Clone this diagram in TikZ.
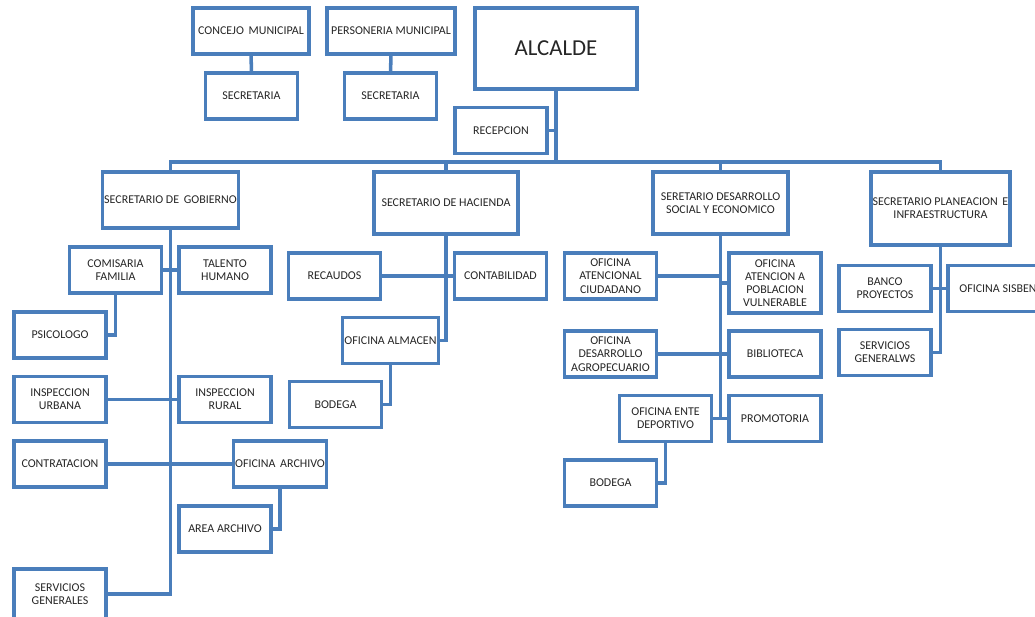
\documentclass[tikz,border=0pt]{standalone}
\usepackage{fontspec}
\setmainfont{Carlito}
\usepackage{tikz}
\usetikzlibrary{positioning}
\definecolor{OfficeBlue}{HTML}{4A7EBB}
\definecolor{TextGray}{HTML}{262626}

\begin{document}
\begin{tikzpicture}[x=0.02cm, y=-0.02cm,
  box/.style={draw=OfficeBlue, line width=2pt, fill=white, text=TextGray, align=center, inner sep=1pt, minimum width=1.84cm, minimum height=0.92cm, font=\fontsize{6.8}{7.5}\selectfont},
  head/.style={box, minimum width=2.7cm, minimum height=1.24cm},
  link/.style={draw=OfficeBlue, line width=2pt}]
  \useasboundingbox (0,0) rectangle (1035,616);
  \node[box, minimum width=2.32cm] (concejo) at (251,31) {CONCEJO\, MUNICIPAL};
  \node[box] (secc) at (251.5,96) {SECRETARIA};
  \node[box, minimum width=2.56cm] (personeria) at (391,31) {PERSONERIA MUNICIPAL};
  \node[box] (secp) at (390.5,96) {SECRETARIA};
  \node[box, minimum width=3.24cm, minimum height=1.62cm, font=\fontsize{13}{15}\selectfont] (alcalde) at (556,48.5) {ALCALDE};
  \node[box] (recepcion) at (501,130.5) {RECEPCION};
  \coordinate (bus) at (556,162);
  \node[head, minimum height=1.12cm] (gobierno) at (170.5,200) {SECRETARIO DE\, GOBIERNO};
  \node[head, minimum width=2.88cm] (hacienda) at (446,203) {SECRETARIO DE HACIENDA};
  \node[head] (desarrollo) at (720.5,203) {SERETARIO DESARROLLO\\SOCIAL Y ECONOMICO};
  \node[head, minimum height=1.46cm] (planeacion) at (940.5,208.5) {SECRETARIO PLANEACION\, E\\INFRAESTRUCTURA};
  \node[box] (comisaria) at (115.5,270) {COMISARIA\\FAMILIA};
  \node[box] (talento) at (225,270) {TALENTO\\HUMANO};
  \node[box] (psicologo) at (60,335) {PSICOLOGO};
  \node[box] (inspurbana) at (60,399.5) {INSPECCION\\URBANA};
  \node[box] (insprural) at (225,399.5) {INSPECCION\\RURAL};
  \node[box] (contratacion) at (60,464) {CONTRATACION};
  \node[box] (ofarchivo) at (280,464) {OFICINA\, ARCHIVO};
  \node[box] (areaarchivo) at (225,529) {AREA ARCHIVO};
  \node[box, minimum height=1cm] (servgen) at (60,594) {SERVICIOS\\GENERALES};
  \node[box] (recaudos) at (334.5,276) {RECAUDOS};
  \node[box] (contabilidad) at (500.5,276) {CONTABILIDAD};
  \node[box] (almacen) at (390.5,340.5) {OFICINA ALMACEN};
  \node[box] (bodegah) at (335.5,404.5) {BODEGA};
  \node[box] (ciudadano) at (610.5,276) {OFICINA\\ATENCIONAL\\CIUDADANO};
  \node[box, minimum height=1.2cm] (vulnerable) at (775,283) {OFICINA\\ATENCION A\\POBLACION\\VULNERABLE};
  \node[box] (agro) at (610.5,354) {OFICINA\\DESARROLLO\\AGROPECUARIO};
  \node[box] (biblioteca) at (775,354) {BIBLIOTECA};
  \node[box] (deportivo) at (665.5,418.5) {OFICINA ENTE\\DEPORTIVO};
  \node[box] (promotoria) at (775,418.5) {PROMOTORIA};
  \node[box] (bodegad) at (610.5,483) {BODEGA};
  \node[box] (banco) at (885,288.5) {BANCO\\PROYECTOS};
  \node[box, minimum width=2cm] (sisben) at (998,288.5) {OFICINA SISBEN};
  \node[box] (servgw) at (885,352.5) {SERVICIOS\\GENERALWS};
  \draw[link] (concejo) -- (secc);
  \draw[link] (personeria) -- (secp);
  \draw[link] (alcalde) -- (bus);
  \draw[link] (recepcion.east) -- (recepcion.east -| bus);
  \draw[link] (gobierno.north) -- (gobierno.north |- bus) -- (planeacion.north |- bus) -- (planeacion.north);
  \draw[link] (hacienda.north) -- (hacienda.north |- bus);
  \draw[link] (desarrollo.north) -- (desarrollo.north |- bus);
  \draw[link] (gobierno.south) |- (servgen.east);
  \draw[link] (comisaria) -- (talento);
  \draw[link] (comisaria.south) |- (psicologo.east);
  \draw[link] (inspurbana) -- (insprural);
  \draw[link] (contratacion) -- (ofarchivo);
  \draw[link] (ofarchivo.south) |- (areaarchivo.east);
  \draw[link] (hacienda.south) |- (almacen.east);
  \draw[link] (recaudos) -- (contabilidad);
  \draw[link] (almacen.south) |- (bodegah.east);
  \draw[link] (desarrollo.south) |- (deportivo.east);
  \draw[link] (deportivo) -- (promotoria);
  \draw[link] (ciudadano.east) -- (ciudadano.east -| desarrollo.south);
  \draw[link] (vulnerable.west) -- (vulnerable.west -| desarrollo.south);
  \draw[link] (agro) -- (biblioteca);
  \draw[link] (deportivo.south) |- (bodegad.east);
  \draw[link] (planeacion.south) |- (servgw.east);
  \draw[link] (banco) -- (sisben);
\end{tikzpicture}
\end{document}
